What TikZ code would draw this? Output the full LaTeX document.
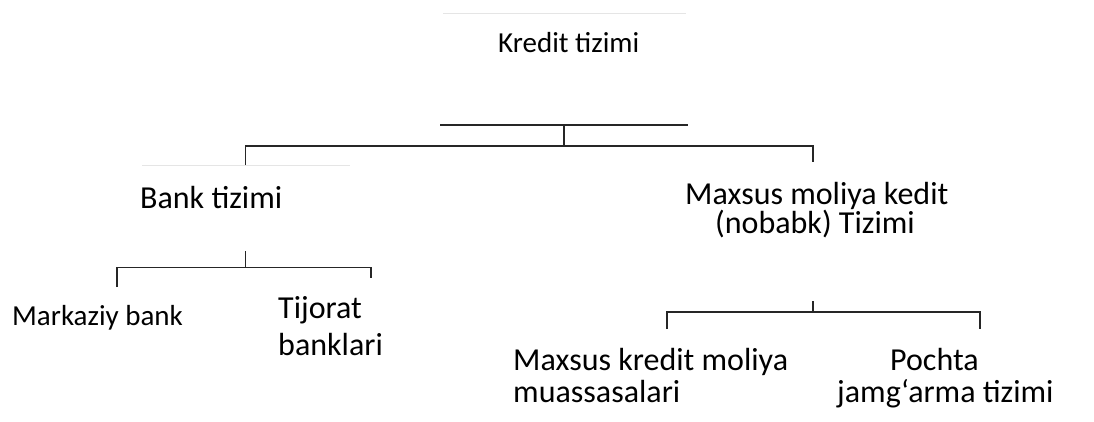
\documentclass[tikz,border=0pt]{standalone}
\usepackage{fontspec}
\setmainfont{Carlito}
\begin{document}
\begin{tikzpicture}[x=1pt,y=-1pt,
  lbl/.style={inner sep=0pt,anchor=base west,font=\fontsize{32}{38}\selectfont},
  lblsm/.style={inner sep=0pt,anchor=base west,font=\fontsize{29}{35}\selectfont},
  conn/.style={line width=1.5pt,black!85},
  faint/.style={line width=1pt,black!10}]
\useasboundingbox (0,0) rectangle (1094,421);
% texts
\node[lblsm] (kredit) at (498,52) {Kredit tizimi};
\node[lbl] (bank) at (140,208) {Bank tizimi};
\node[lbl] (maxs1) at (685,204) {Maxsus moliya kedit};
\node[lbl] (maxs2) at (715,233) {(nobabk) Tizimi};
\node[lblsm] (markaziy) at (12,325) {Markaziy bank};
\node[lbl] (tij1) at (278,318) {Tijorat};
\node[lbl] (tij2) at (278,355) {banklari};
\node[lbl] (mk1) at (513,370) {Maxsus kredit moliya};
\node[lbl] (mk2) at (513,402) {muassasalari};
\node[lbl] (po1) at (890,370) {Pochta};
\node[lbl] (po2) at (837,402) {jamg‘arma tizimi};
% faint rules
\draw[faint] (443,13) -- (686,13);
\draw[faint] (142,165) -- (350,165);
% top bracket
\coordinate (t1) at (440,125);
\coordinate (t2) at (688,125);
\coordinate (tm) at (564,125);
\coordinate (tb) at (564,146);
\coordinate (tl) at (245.5,146);
\coordinate (tr) at (813,146);
\coordinate (tlb) at (245.5,165);
\coordinate (trb) at (813,162);
\draw[conn] (t1) -- (t2);
\draw[conn] (tm) -- (tb);
\draw[conn] (tlb) -- (tl) -- (tr) -- (trb);
% bank bracket
\coordinate (bt) at (245.5,251);
\coordinate (bm) at (245.5,267.5);
\coordinate (bl) at (117,267.5);
\coordinate (br) at (371,267.5);
\coordinate (blb) at (117,287);
\coordinate (brb) at (371,278);
\draw[conn] (bt) -- (bm);
\draw[conn] (blb) -- (bl) -- (br) -- (brb);
% right bracket
\coordinate (rt) at (813,301);
\coordinate (rm) at (813,312);
\coordinate (rl) at (667,312);
\coordinate (rr) at (980,312);
\coordinate (rlb) at (667,329);
\coordinate (rrb) at (980,329);
\draw[conn] (rt) -- (rm);
\draw[conn] (rlb) -- (rl) -- (rr) -- (rrb);
\end{tikzpicture}
\end{document}
